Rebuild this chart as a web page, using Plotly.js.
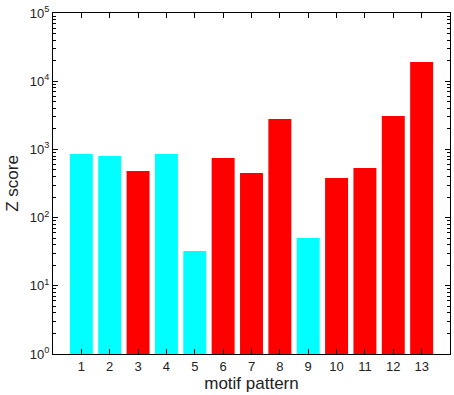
<!DOCTYPE html>
<html>
<head>
<meta charset="utf-8">
<script src="https://cdn.plot.ly/plotly-3.0.1.min.js"></script>
<style>html,body{margin:0;padding:0;background:#fff;}#chart{width:454px;height:395px;}</style>
</head>
<body>
<div id="chart"></div>
<script>
const motifs = [1,2,3,4,5,6,7,8,9,10,11,12,13];
const zScores = [857,800,482,857,32.4,748,451,2790,50.2,381,534,3090,19100];
const motifClass = [0,0,1,0,0,1,1,1,0,1,1,1,1];
const yTickVals = [1,10,100,1000,10000,100000];
const yTickText = ['10<sup>0</sup>','10<sup>1</sup>','10<sup>2</sup>','10<sup>3</sup>','10<sup>4</sup>','10<sup>5</sup>'];

const classColors = ['#00FFFF','#FF0000'];
const font = 'Liberation Sans, Arial, Helvetica, sans-serif';

Plotly.newPlot('chart', [{
  type: 'bar',
  x: motifs,
  y: zScores,
  marker: {color: motifClass.map(c => classColors[c]), line: {width: 0}},
  hoverinfo: 'x+y'
}], {
  width: 454, height: 395,
  margin: {l: 53, r: 4, t: 13, b: 41},
  paper_bgcolor: '#fff', plot_bgcolor: '#fff',
  bargap: 0.19,
  showlegend: false,
  font: {family: font, color: '#000', size: 13},
  xaxis: {
    range: [0, 14],
    tickmode: 'array', tickvals: motifs, ticktext: motifs.map(String),
    ticks: 'inside', ticklen: 5, tickcolor: '#000',
    showline: true, linecolor: '#000', linewidth: 1, mirror: 'ticks',
    showgrid: false, zeroline: false,
    tickfont: {family: font, size: 13, color: '#222'},
    title: {text: 'motif pattern', font: {family: font, size: 17, color: '#222'}, standoff: 2}
  },
  yaxis: {
    type: 'log',
    range: [0, 5],
    tickmode: 'array', tickvals: yTickVals, ticktext: yTickText,
    ticks: 'inside', ticklen: 5, tickcolor: '#000',
    minor: {ticks: 'inside', ticklen: 3, dtick: 'D1', tickcolor: '#000', showgrid: false},
    showline: true, linecolor: '#000', linewidth: 1, mirror: 'ticks',
    showgrid: false, zeroline: false,
    tickfont: {family: font, size: 13, color: '#222'},
    title: {text: 'Z score', font: {family: font, size: 17, color: '#222'}, standoff: 6}
  }
}, {displayModeBar: false, staticPlot: true});
</script>
</body>
</html>
